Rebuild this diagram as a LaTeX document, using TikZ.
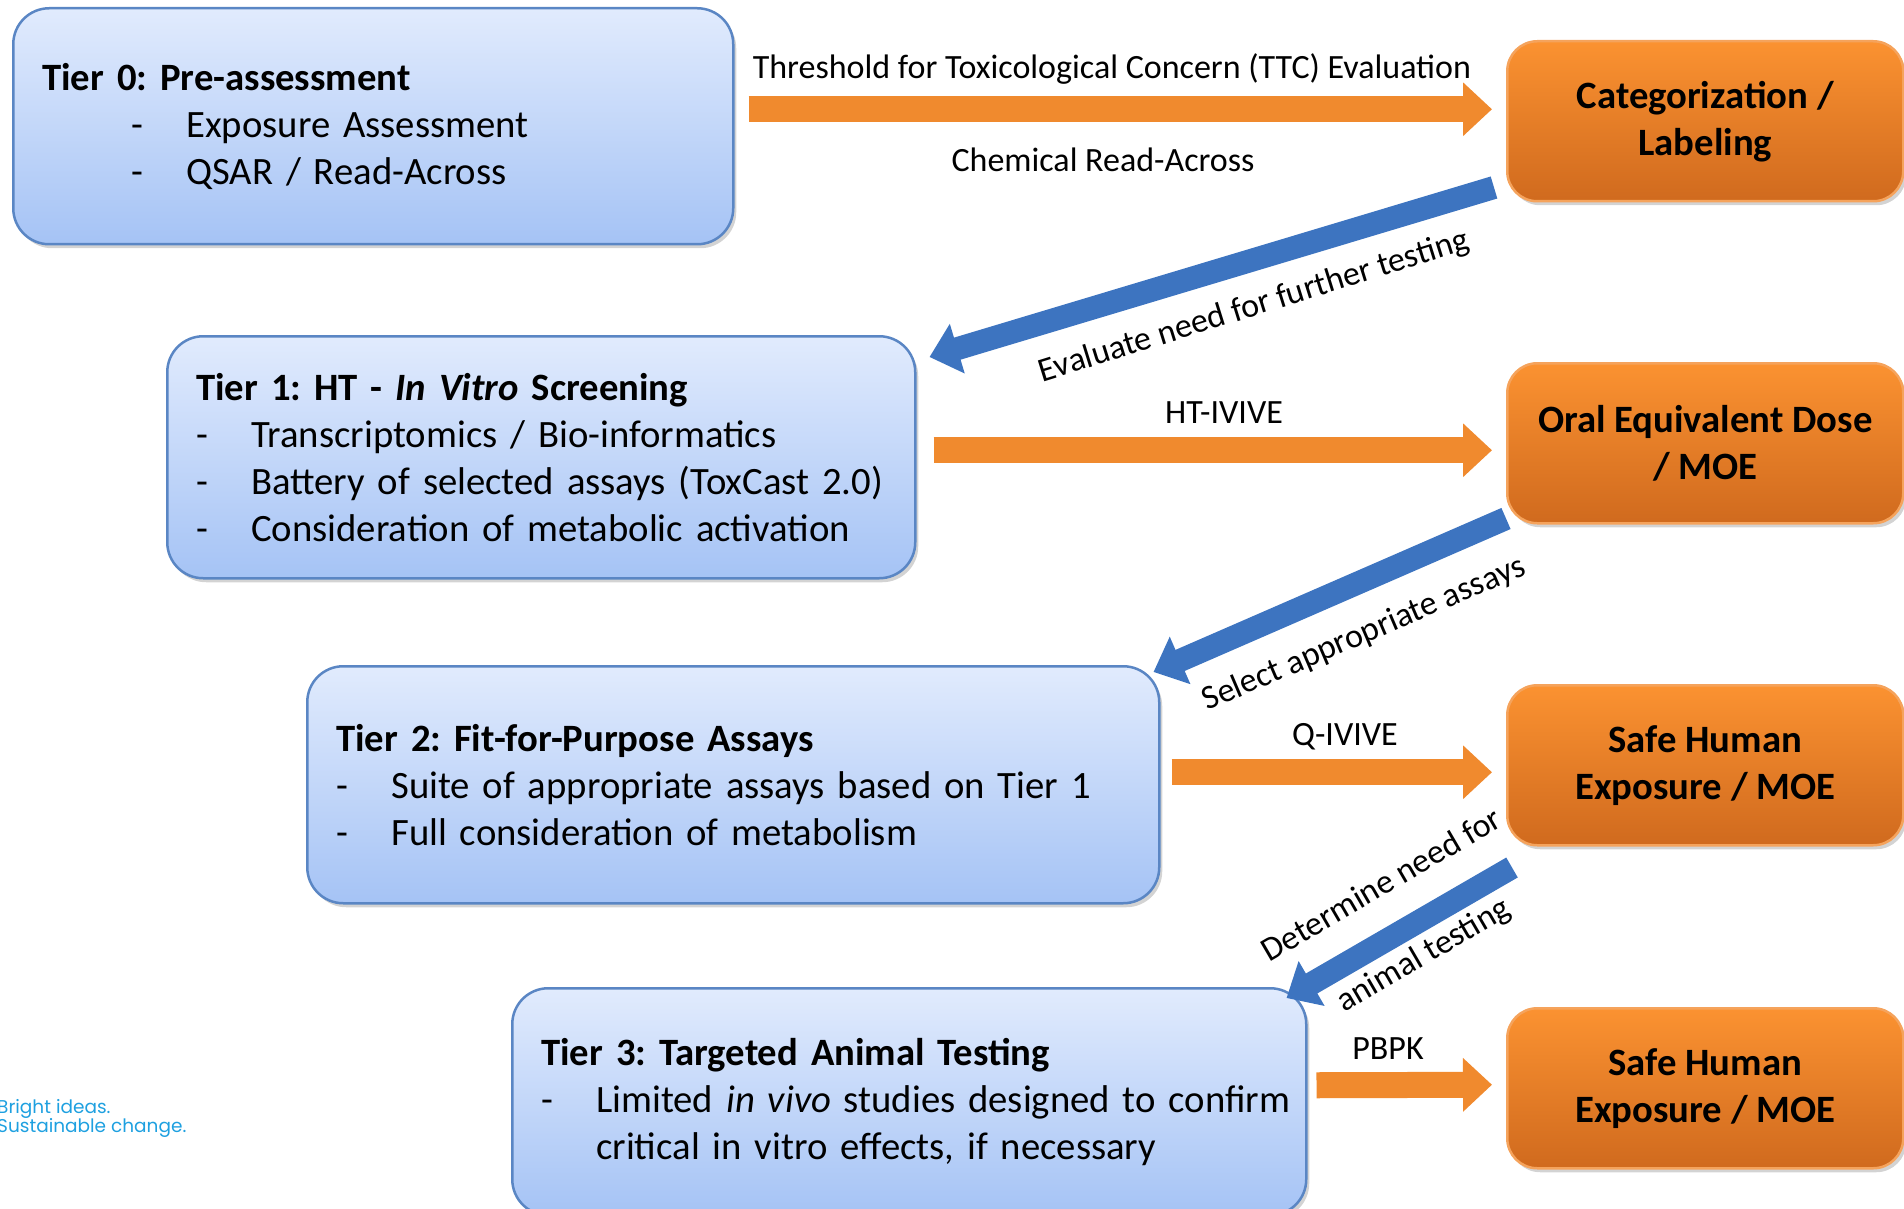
\documentclass[tikz,border=0pt]{standalone}
\usepackage{fontspec}
\setmainfont{Carlito}
\newfontfamily\tagfont{Poppins}
\usetikzlibrary{arrows.meta,positioning,calc,shadows}
\definecolor{TierTop}{HTML}{E1EBFD}
\definecolor{TierBot}{HTML}{A5C3F5}
\definecolor{TierLine}{HTML}{5A86C4}
\definecolor{OutTop}{HTML}{FB9231}
\definecolor{OutBot}{HTML}{D06A1E}
\definecolor{OutLine}{HTML}{F5A35C}
\definecolor{FlowO}{HTML}{F08A2E}
\definecolor{FlowB}{HTML}{3D74C0}
\definecolor{Tag}{HTML}{1EA0E0}
\newcommand{\itm}[1]{\makebox[55pt][l]{-}#1}
\frenchspacing

\begin{document}
\begin{tikzpicture}[x=1pt,y=1pt,
  tier/.style={draw=TierLine,line width=2.5pt,rounded corners=36pt,top color=TierTop,bottom color=TierBot,
    drop shadow={shadow xshift=3pt,shadow yshift=-4pt,opacity=0.35},anchor=north west,align=left,
    inner xsep=29pt,inner ysep=0pt,font=\fontsize{38.7}{47}\selectfont},
  outbox/.style={draw=OutLine,line width=2.5pt,rounded corners=30pt,top color=OutTop,bottom color=OutBot,
    drop shadow={shadow xshift=3pt,shadow yshift=-4pt,opacity=0.35},anchor=north west,align=center,
    minimum width=396pt,minimum height=160pt,font=\bfseries\fontsize{38.7}{47}\selectfont},
  lab/.style={font=\fontsize{34}{40}\selectfont,inner sep=0pt},
  oflow/.style={draw=FlowO,line width=26pt,-{Triangle[length=29pt,width=52pt]}},
  bflow/.style={draw=FlowB,line width=23pt,-{Triangle[length=29pt,width=50pt]}}]
  \useasboundingbox (0,0) rectangle (1904,-1209);
  % tiers
  \node[tier,text width=662pt,minimum height=236pt] (t0) at (12,-7)
    {\textbf{Tier 0: Pre-assessment}\\\hspace*{89pt}\itm{Exposure Assessment}\\\hspace*{89pt}\itm{QSAR / Read-Across}};
  \node[tier,text width=690pt,minimum height=242pt] (t1) at (166,-335)
    {\textbf{Tier 1: HT - \textit{In Vitro} Screening}\\\itm{Transcriptomics / Bio-informatics}\\
     \itm{Battery of selected assays (ToxCast 2.0)}\\\itm{Consideration of metabolic activation}};
  \node[tier,text width=794pt,minimum height=237pt] (t2) at (306,-665)
    {\textbf{Tier 2: Fit-for-Purpose Assays}\\\itm{Suite of appropriate assays based on Tier 1}\\
     \itm{Full consideration of metabolism}};
  \node[tier,text width=736pt,minimum height=227pt] (t3) at (511,-987)
    {\textbf{Tier 3: Targeted Animal Testing}\\\mbox{\itm{Limited \textit{in vivo} studies designed to confirm}}\\
     \hspace*{55pt}critical in vitro effects, if necessary};
  % outcomes
  \node[outbox] (cat)   at (1506,-40)   {Categorization /\\Labeling};
  \node[outbox] (oral)  at (1506,-362)  {Oral Equivalent Dose\\/ MOE};
  \node[outbox] (safe1) at (1506,-684)  {Safe Human\\Exposure / MOE};
  \node[outbox] (safe2) at (1506,-1007) {Safe Human\\Exposure / MOE};
  % arrows to outcomes
  \draw[oflow] ([xshift=14pt,yshift=17pt]t0.east) -- ([xshift=-14pt,yshift=12pt]cat.west);
  \draw[oflow] ([xshift=17pt,yshift=7pt]t1.east) -- ([xshift=-14pt,yshift=-7pt]oral.west);
  \draw[oflow] ([xshift=11pt,yshift=12.5pt]t2.east) -- ([xshift=-14pt,yshift=-7pt]safe1.west);
  \draw[oflow] ([xshift=9pt,yshift=16.5pt]t3.east) -- ([xshift=-14pt,yshift=3.5pt]safe2.west);
  % arrows down a tier
  \draw[bflow] ($(cat.south west)+(-12,15)$) -- ($(t1.north east)+(13,-22)$);
  \draw[bflow] ($(oral.south west)+(0,6)$) -- ($(t2.north east)+(-7,-7)$);
  \draw[bflow] ($(safe1.south west)+(6,-21)$) -- ($(t3.north east)+(-21,-11)$);
  % labels
  \node[lab] (ttc)  at (1112,-69)  {Threshold for Toxicological Concern (TTC) Evaluation};
  \node[lab] (cra)  at (1103,-160) {Chemical Read-Across};
  \node[lab] (htiv) at (1224,-413) {HT-IVIVE};
  \node[lab] (qiv)  at (1345,-737) {Q-IVIVE};
  \node[lab] (pbpk) at (1388,-1049) {PBPK};
  \node[lab,rotate=17.3] (evl) at (1254,-307) {Evaluate need for further testing};
  \node[lab,rotate=23.2] (sel) at (1364,-634) {Select appropriate assays};
  \node[lab,rotate=30.3] (det) at (1381,-884) {Determine need for};
  \node[lab,rotate=30.3] (ani) at (1424,-956) {animal testing};
  \node[font=\tagfont\fontsize{18.5}{19.5}\selectfont,text=Tag,anchor=north west,align=left,inner sep=0pt] (tag)
    at (-3,-1099) {Bright ideas.\\Sustainable change.};
\end{tikzpicture}
\end{document}
